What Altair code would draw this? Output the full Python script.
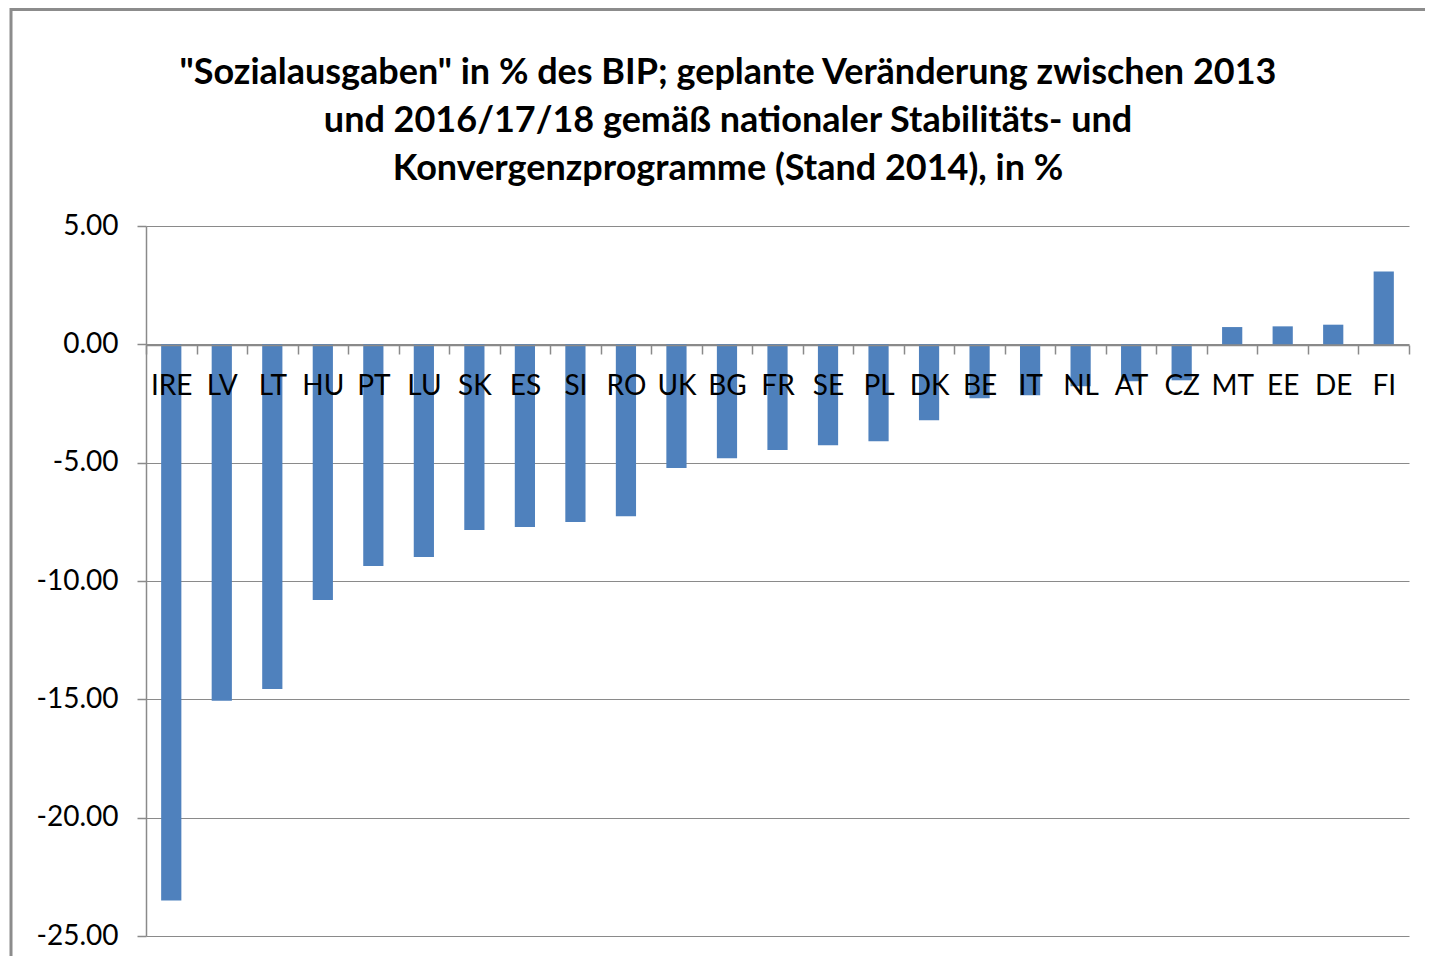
import altair as alt
import pandas as pd

countries = ["IRE", "LV", "LT", "HU", "PT", "LU", "SK", "ES", "SI", "RO", "UK", "BG", "FR",
             "SE", "PL", "DK", "BE", "IT", "NL", "AT", "CZ", "MT", "EE", "DE", "FI"]
values = [-23.50, -15.06, -14.56, -10.80, -9.37, -8.99, -7.85, -7.72, -7.51, -7.26, -5.23,
          -4.81, -4.47, -4.26, -4.09, -3.21, -2.28, -2.15, -1.77, -1.56, -1.52, 0.73, 0.76,
          0.83, 3.08]
y_ticks = [5, 0, -5, -10, -15, -20, -25]
title_lines = [
    "\"Sozialausgaben\" in % des BIP; geplante Veränderung zwischen 2013",
    "und 2016/17/18 gemäß nationaler Stabilitäts- und",
    "Konvergenzprogramme (Stand 2014), in %",
]

df = pd.DataFrame({"country": countries, "value": values})

W, H = 1263, 710
FONT = "Lato"
GRAY = "#8a8a8a"

bars = alt.Chart(df).mark_bar(color="#4F81BD", width=alt.RelativeBandSize(0.4)).encode(
    x=alt.X(
        "country:N",
        sort=countries,
        title="",
        scale=alt.Scale(paddingInner=0, paddingOuter=0),
        axis=alt.Axis(
            orient="bottom",
            offset=-591,
            tickBand="extent",
            labelAngle=0,
            labelFont=FONT,
            labelFontSize=28,
            labelColor="#000000",
            labelPadding=18,
            domainColor=GRAY,
            domainWidth=1.5,
            tickColor=GRAY,
            tickWidth=1.5,
            tickSize=9,
            grid=False,
            zindex=1,
        ),
    ),
    y=alt.Y(
        "value:Q",
        title="",
        scale=alt.Scale(domain=[-25, 5], nice=False, zero=False),
        axis=alt.Axis(
            values=y_ticks,
            labelExpr="replace(format(datum.value, '.2f'), '\u2212', '-')",
            labelFont=FONT,
            labelFontSize=28,
            labelColor="#000000",
            labelPadding=19,
            domainColor=GRAY,
            domainWidth=1.5,
            tickColor=GRAY,
            tickWidth=1.5,
            tickSize=9,
            grid=True,
            gridColor=GRAY,
            gridWidth=1.2,
            zindex=0,
        ),
    ),
)

frame = alt.Chart(pd.DataFrame({"f": [0]})).mark_rect(
    filled=False, stroke="#8c8c8c", strokeWidth=3
).encode(
    x=alt.value(-135),
    x2=alt.value(W + 200),
    y=alt.value(-216.5),
    y2=alt.value(H + 200),
)

title = alt.Chart(pd.DataFrame({"f": [0]})).mark_text(
    text=title_lines,
    font=FONT,
    fontSize=36,
    fontWeight="bold",
    color="#000000",
    align="center",
    baseline="alphabetic",
    lineHeight=48,
).encode(
    x=alt.value(582),
    y=alt.value(-142),
)

chart = alt.layer(frame, bars, title).properties(
    width=W,
    height=H,
    padding={"left": 138, "top": 218, "right": 16, "bottom": 20},
    autosize=alt.AutoSizeParams(type="none"),
    background="white",
).configure_view(strokeWidth=0)

chart.save("out.html", embed_options={"renderer": "svg", "actions": False})
